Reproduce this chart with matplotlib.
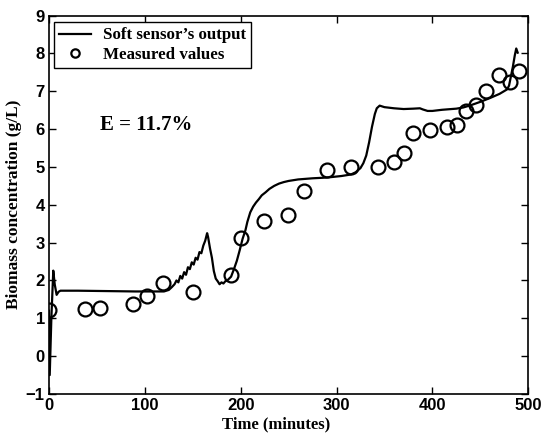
import matplotlib
matplotlib.use("Agg")
import matplotlib.pyplot as plt
from matplotlib.lines import Line2D

# Soft sensor output
sensor_t = [0, 0.8, 2.5, 4.5, 6, 8, 10, 12, 30, 60, 90, 120, 125, 128, 131, 133, 135, 137, 139,
            141, 143, 145, 147, 149, 151, 153, 155, 157, 159, 161, 163, 165, 166, 168, 170,
            172, 174, 176, 178, 180, 182, 184, 186, 188, 190, 193, 196, 199, 202, 205, 207,
            210, 213, 216, 219, 222, 226, 230, 235, 240, 245, 250, 260, 275, 290, 305, 315,
            320, 325, 328, 331, 334, 337, 340, 342, 345, 350, 360, 370, 380, 387, 390, 395,
            400, 410, 425, 432, 440, 450, 460, 470, 478, 480, 482, 484, 486, 487.5, 489]
sensor_y = [1.2, -0.5, 1.0, 2.26, 1.9, 1.62, 1.70, 1.73, 1.73, 1.72, 1.71, 1.71, 1.75, 1.82,
            1.90, 2.0, 1.95, 2.12, 2.05, 2.22, 2.15, 2.35, 2.30, 2.48, 2.42, 2.6, 2.55, 2.75,
            2.72, 2.92, 3.05, 3.25, 3.15, 2.85, 2.6, 2.25, 2.05, 1.98, 1.90, 1.95, 1.92, 1.98,
            2.0, 2.05, 2.1, 2.3, 2.52, 2.8, 3.1, 3.33, 3.55, 3.8, 3.95, 4.06, 4.15, 4.25, 4.33,
            4.42, 4.50, 4.56, 4.60, 4.63, 4.67, 4.70, 4.72, 4.76, 4.80, 4.86, 4.97, 5.1, 5.3,
            5.65, 6.06, 6.4, 6.55, 6.62, 6.58, 6.55, 6.53, 6.54, 6.55, 6.52, 6.48, 6.48, 6.51,
            6.54, 6.57, 6.63, 6.72, 6.82, 6.93, 7.05, 7.15, 7.4, 7.65, 7.95, 8.13, 8.02]

# Measured values
meas_t = [0, 38, 53, 88, 102, 119, 150, 190, 200, 224, 249, 266, 290, 315, 343, 360, 370,
          380, 398, 415, 426, 435, 446, 456, 469, 481, 490]
meas_y = [1.22, 1.25, 1.27, 1.38, 1.59, 1.94, 1.70, 2.14, 3.12, 3.57, 3.73, 4.36, 4.92, 5.0,
          5.0, 5.13, 5.37, 5.90, 5.97, 6.05, 6.10, 6.48, 6.65, 7.0, 7.43, 7.24, 7.54]

xticks = [0, 100, 200, 300, 400, 500]
yticks = [-1, 0, 1, 2, 3, 4, 5, 6, 7, 8, 9]

fig = plt.figure(figsize=(5.44, 4.36), dpi=100)
ax = fig.add_axes([0.090, 0.0963, 0.881, 0.868])

ax.plot(sensor_t, sensor_y, color="black", lw=1.6)
ax.plot(meas_t, meas_y, linestyle="none", marker="o", markersize=10,
        markerfacecolor="none", markeredgecolor="black", markeredgewidth=1.6)

ax.set_xlim(0, 500)
ax.set_ylim(-1, 9)
ax.set_xticks(xticks)
ax.set_yticks(yticks)
ax.set_xticklabels([str(v) for v in xticks])
ax.set_yticklabels([("\u2212" + str(-v)) if v < 0 else str(v) for v in yticks])
ax.tick_params(direction="in", top=True, right=True, length=5, width=1, pad=3)
for lab in ax.get_xticklabels() + ax.get_yticklabels():
    lab.set_fontfamily("Liberation Sans")
    lab.set_fontweight("bold")
    lab.set_fontsize(12)
for s in ax.spines.values():
    s.set_linewidth(1.2)

serif = dict(family="Liberation Serif", weight="bold")
ax.set_xlabel("Time (minutes)", fontsize=12, **serif)
ax.xaxis.set_label_coords(0.473, -0.060, transform=ax.transAxes)
ax.xaxis.label.set_va("top")
ax.set_ylabel("Biomass concentration (g/L)", fontsize=12.5, labelpad=3, **serif)

ax.text(53, 6.1, "E = 11.7%", fontsize=15, ha="left", va="center", **serif)

handles = [Line2D([], [], color="black", lw=1.6),
           Line2D([], [], linestyle="none", marker="o", markersize=6,
                  markerfacecolor="none", markeredgecolor="black", markeredgewidth=1.6)]
leg = ax.legend(handles, ["Soft sensor\u2019s output", "Measured values"],
                loc="upper left", bbox_to_anchor=(0.010, 0.982),
                prop=dict(family="Liberation Serif", weight="bold", size=12.2),
                frameon=True, fancybox=False, edgecolor="black", framealpha=1,
                handlelength=1.9, handletextpad=0.7, borderpad=0.3, labelspacing=0.2,
                borderaxespad=0)
leg.get_frame().set_linewidth(1.0)

fig.savefig("out.png", dpi=100)
